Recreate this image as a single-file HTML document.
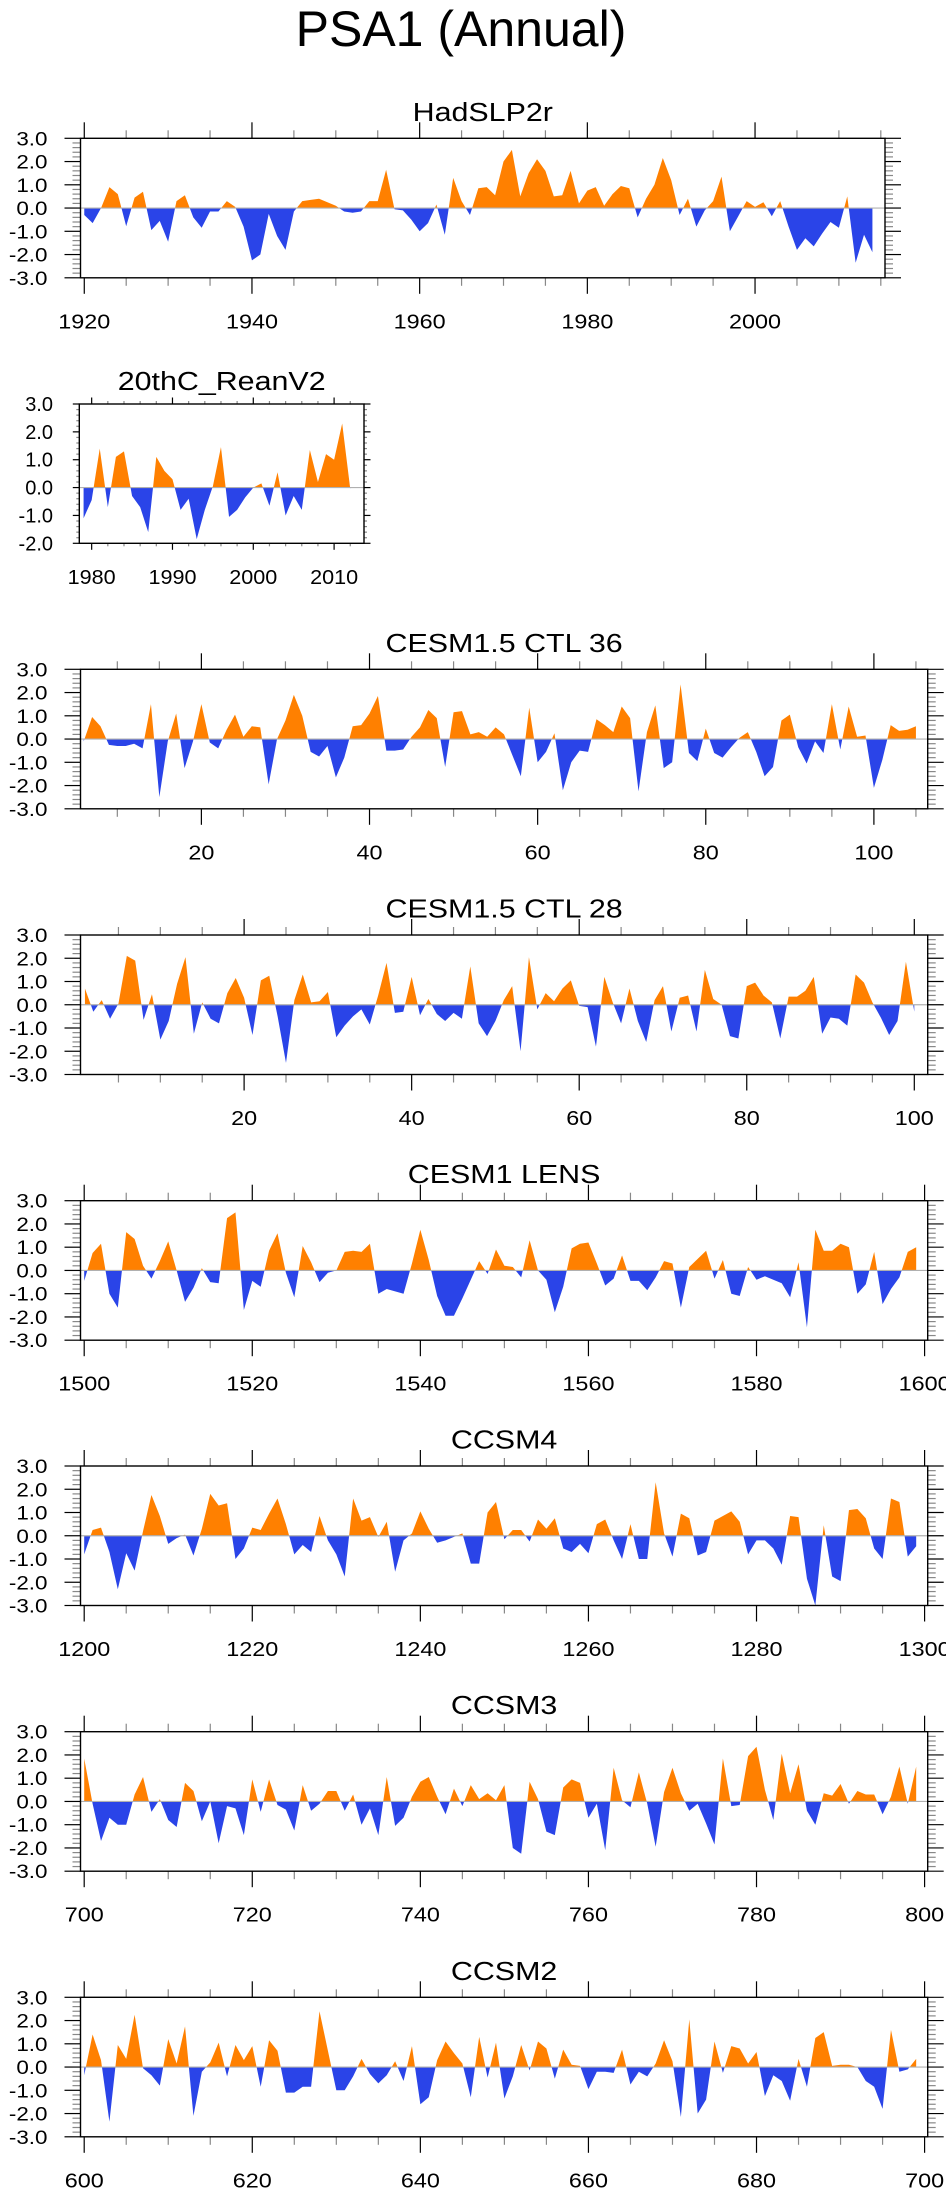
<!DOCTYPE html>
<html><head><meta charset="utf-8">
<style>
html,body{margin:0;padding:0;background:#fff;}
svg{display:block;}
text{font-family:"Liberation Sans",Arial,sans-serif;fill:#000;}
</style></head>
<body>
<svg id="fig" width="946" height="2195" viewBox="0 0 946 2195" xmlns="http://www.w3.org/2000/svg">
<text x="461" y="46" font-size="50" text-anchor="middle">PSA1 (Annual)</text>
</svg>
<script>
// ---------- data ----------
const hadslpStart = 1920;
const hadslpValues = [-0.3,-0.65,0.0,0.9,0.6,-0.78,0.45,0.7,-0.95,-0.55,-1.45,0.3,0.55,-0.4,-0.85,-0.15,-0.15,0.3,0.05,-0.8,-2.25,-2.0,-0.25,-1.2,-1.8,-0.15,0.3,0.35,0.4,0.25,0.1,-0.15,-0.2,-0.15,0.3,0.3,1.65,-0.05,-0.1,-0.5,-1.0,-0.65,0.15,-1.15,1.3,0.3,-0.3,0.85,0.9,0.55,2.0,2.5,0.5,1.5,2.1,1.6,0.5,0.55,1.6,0.2,0.75,0.9,0.1,0.6,0.95,0.85,-0.4,0.4,1.0,2.15,1.2,-0.3,0.4,-0.8,-0.1,0.3,1.35,-1.0,-0.35,0.3,0.05,0.25,-0.35,0.3,-0.8,-1.8,-1.3,-1.65,-1.1,-0.6,-0.85,0.5,-2.35,-1.15,-1.9];
const reanStart = 1979;
const reanValues = [-1.1,-0.45,1.4,-0.7,1.1,1.3,-0.3,-0.7,-1.6,1.1,0.6,0.3,-0.8,-0.4,-1.85,-0.8,0.05,1.45,-1.05,-0.8,-0.35,0.0,0.15,-0.65,0.55,-1.0,-0.3,-0.8,1.35,0.2,1.2,1.0,2.3,-0.05];
const ctl36Start = 6;
const ctl36Values = [-0.1,0.95,0.55,-0.25,-0.3,-0.3,-0.2,-0.4,1.5,-2.5,-0.1,1.1,-1.25,-0.1,1.5,-0.15,-0.4,0.4,1.05,0.1,0.55,0.5,-1.95,0.0,0.8,1.9,1.0,-0.55,-0.75,-0.3,-1.65,-0.8,0.55,0.6,1.1,1.85,-0.5,-0.5,-0.45,0.1,0.5,1.25,0.9,-1.2,1.15,1.2,0.2,0.3,0.1,0.5,0.2,-0.7,-1.6,1.35,-1.0,-0.55,0.25,-2.2,-1.0,-0.5,-0.55,0.85,0.6,0.3,1.4,0.9,-2.25,0.3,1.45,-1.25,-1.0,2.35,-0.6,-0.95,0.45,-0.6,-0.8,-0.35,0.05,0.3,-0.55,-1.6,-1.2,0.8,1.05,-0.35,-1.05,-0.1,-0.6,1.5,-0.45,1.4,0.1,0.15,-2.1,-0.9,0.6,0.35,0.4,0.55];
const ctl28Start = 1;
const ctl28Values = [0.7,-0.3,0.2,-0.6,0.05,2.1,1.9,-0.65,0.45,-1.5,-0.7,0.9,2.05,-1.25,0.1,-0.6,-0.8,0.5,1.15,0.3,-1.3,1.05,1.25,-0.5,-2.5,0.2,1.3,0.1,0.15,0.55,-1.4,-0.9,-0.5,-0.2,-0.85,0.4,1.8,-0.35,-0.3,1.2,-0.45,0.25,-0.4,-0.7,-0.35,-0.6,1.65,-0.8,-1.35,-0.7,0.2,0.8,-2.0,2.05,-0.2,0.5,0.15,0.7,1.05,-0.05,-0.1,-1.8,1.2,0.1,-0.8,0.7,-0.7,-1.6,0.2,0.8,-1.15,0.3,0.4,-1.15,1.5,0.25,0.0,-1.35,-1.45,0.8,0.95,0.4,0.1,-1.45,0.35,0.35,0.6,1.2,-1.25,-0.55,-0.6,-0.9,1.3,0.95,0.1,-0.55,-1.3,-0.7,1.85,-0.3];
const lensStart = 1500;
const lensValues = [-0.45,0.75,1.15,-1.0,-1.6,1.65,1.35,0.2,-0.35,0.4,1.25,0.0,-1.35,-0.75,0.1,-0.5,-0.55,2.25,2.5,-1.7,-0.45,-0.7,0.85,1.6,-0.1,-1.15,1.05,0.35,-0.5,-0.1,0.0,0.8,0.85,0.8,1.15,-1.0,-0.8,-0.9,-1.0,0.3,1.75,0.45,-1.1,-1.95,-1.95,-1.2,-0.4,0.4,-0.15,0.9,0.2,0.15,-0.3,1.3,0.0,-0.4,-1.8,-0.7,0.95,1.15,1.2,0.3,-0.65,-0.35,0.65,-0.45,-0.45,-0.85,-0.3,0.4,0.3,-1.6,0.15,0.5,0.85,-0.35,0.45,-1.0,-1.1,0.15,-0.4,-0.25,-0.4,-0.55,-1.15,0.35,-2.45,1.75,0.85,0.85,1.15,1.0,-1.0,-0.6,0.8,-1.45,-0.8,-0.3,0.8,1.0];
const ccsm4Start = 1200;
const ccsm4Values = [-0.8,0.25,0.35,-0.7,-2.3,-0.75,-1.5,0.2,1.75,0.85,-0.35,-0.1,0.05,-0.85,0.3,1.8,1.3,1.4,-1.0,-0.55,0.35,0.25,0.95,1.6,0.5,-0.8,-0.4,-0.7,0.85,-0.2,-0.8,-1.75,1.6,0.65,0.8,-0.05,0.6,-1.55,-0.2,0.1,1.05,0.3,-0.3,-0.2,-0.05,0.1,-1.2,-1.2,1.0,1.45,-0.15,0.25,0.25,-0.25,0.7,0.3,0.75,-0.55,-0.7,-0.35,-0.75,0.5,0.7,-0.2,-1.0,0.5,-1.0,-1.0,2.3,0.1,-0.9,0.95,0.75,-0.85,-0.7,0.65,0.85,1.05,0.6,-0.8,-0.2,-0.2,-0.55,-1.25,0.85,0.8,-1.85,-3.0,0.45,-1.75,-1.95,1.1,1.15,0.75,-0.55,-1.0,1.6,1.45,-0.9,-0.45];
const ccsm3Start = 700;
const ccsm3Values = [1.85,-0.1,-1.7,-0.7,-1.0,-1.0,0.3,1.05,-0.45,0.1,-0.8,-1.1,0.8,0.45,-0.85,0.0,-1.8,-0.2,-0.3,-1.45,0.95,-0.45,0.95,-0.15,-0.35,-1.25,0.7,-0.4,-0.1,0.45,0.45,-0.4,0.3,-1.0,-0.3,-1.45,1.05,-1.05,-0.7,0.2,0.85,1.05,0.2,-0.55,0.55,-0.2,0.7,0.1,0.35,0.05,0.7,-2.0,-2.25,0.85,0.1,-1.3,-1.45,0.6,0.95,0.8,-0.7,-0.1,-2.1,1.45,0.05,-0.25,1.25,-0.1,-1.95,0.4,1.45,0.35,-0.4,-0.1,-0.95,-1.85,1.85,-0.2,-0.15,1.95,2.35,0.5,-0.8,2.05,0.35,1.6,-0.4,-1.0,0.35,0.25,0.75,-0.1,0.45,0.3,0.3,-0.55,0.2,1.5,-0.1,1.5];
const ccsm2Start = 600;
const ccsm2Values = [-0.35,1.4,0.3,-2.35,0.95,0.35,2.25,-0.05,-0.35,-0.8,1.2,0.15,1.75,-2.1,-0.2,0.2,1.05,-0.4,0.95,0.3,0.9,-0.85,1.15,0.7,-1.1,-1.1,-0.85,-0.85,2.4,0.7,-1.0,-1.0,-0.4,0.35,-0.3,-0.7,-0.35,0.25,-0.6,0.9,-1.6,-1.3,0.3,1.1,0.6,0.15,-1.3,1.3,-0.45,1.05,-1.35,-0.4,0.95,-0.15,1.1,0.8,-0.5,0.75,0.1,0.05,-0.95,-0.2,-0.2,-0.25,0.75,-0.75,-0.2,-0.4,0.15,1.15,0.25,-2.15,2.05,-2.0,-1.4,1.1,-0.25,0.9,0.8,0.15,0.65,-1.25,-0.35,-0.6,-1.45,0.35,-0.85,1.25,1.5,0.05,0.1,0.1,0.0,-0.6,-0.85,-1.8,1.6,-0.2,-0.1,0.35];

const hadslpTicks = [1920,1940,1960,1980,2000];
const reanTicks = [1980,1990,2000,2010];
const ctlTicks = [20,40,60,80,100];
const lensTicks = [1500,1520,1540,1560,1580,1600];
const ccsm4Ticks = [1200,1220,1240,1260,1280,1300];
const ccsm3Ticks = [700,720,740,760,780,800];
const ccsm2Ticks = [600,620,640,660,680,700];
const yTicksFull = [3,2,1,0,-1,-2,-3];
const yTicksRean = [3,2,1,0,-1,-2];

// ---------- drawing ----------
const NS = 'http://www.w3.org/2000/svg';
const svg = document.getElementById('fig');
function mk(tag, attrs, parent) {
  const e = document.createElementNS(NS, tag);
  for (const k in attrs) e.setAttribute(k, attrs[k]);
  (parent || svg).appendChild(e);
  return e;
}
function label(g, x, y, str, size, sx, anchor) {
  const t = mk('text', {transform: 'translate(' + x + ',' + y + ') scale(' + sx + ',1)', 'font-size': size, 'text-anchor': anchor}, g);
  t.textContent = str;
  return t;
}

const BLUE = '#2a44e8', ORANGE = '#ff8000';

function drawChart(cfg, idx) {
  const g = mk('g', {});
  
  
  const L = cfg.l, R = cfg.r, T = cfg.t, B = cfg.t + cfg.h;
  const xs = v => L + (v - cfg.xmin) / (cfg.xmax - cfg.xmin) * (R - L);
  const ys = v => T + (cfg.ymax - v) / (cfg.ymax - cfg.ymin) * (B - T);
  const y0 = ys(0);

  // area path
  let d = 'M' + xs(cfg.start) + ',' + y0;
  cfg.values.forEach((v, i) => { d += ' L' + xs(cfg.start + i).toFixed(2) + ',' + ys(v).toFixed(2); });
  d += ' L' + xs(cfg.start + cfg.values.length - 1) + ',' + y0 + ' Z';

  const cu = 'clipU' + idx, cd = 'clipD' + idx;
  const defs = mk('defs', {}, g);
  const c1 = mk('clipPath', {id: cu}, defs);
  mk('rect', {x: L, y: T, width: R - L, height: y0 - T}, c1);
  const c2 = mk('clipPath', {id: cd}, defs);
  mk('rect', {x: L, y: y0, width: R - L, height: B - y0}, c2);

  const pos = mk('path', {d: d, fill: ORANGE, 'clip-path': 'url(#' + cu + ')'}, g);
  
  
  const neg = mk('path', {d: d, fill: BLUE, 'clip-path': 'url(#' + cd + ')'}, g);
  
  

  const zl = mk('line', {x1: L, x2: R, y1: y0, y2: y0, stroke: '#b0b0b0', 'stroke-width': 1.2}, g);
  
  

  // ticks
  const maj = cfg.small ? 6.5 : 16, mnr = cfg.small ? 3 : 8;
  const tg = mk('g', {stroke: '#000', 'stroke-width': 1.2}, g);
  
  
  const first = Math.ceil(cfg.xmin / cfg.minorStep) * cfg.minorStep;
  for (let v = first; v <= cfg.xmax + 1e-9; v += cfg.minorStep) {
    const isMaj = Math.abs(v / cfg.majorStep - Math.round(v / cfg.majorStep)) < 1e-6;
    const len = isMaj ? maj : mnr;
    const x = xs(v);
    const col = isMaj ? '#000' : '#888';
    mk('line', {x1: x, x2: x, y1: T, y2: T - len, stroke: col}, tg);
    mk('line', {x1: x, x2: x, y1: B, y2: B + len, stroke: col}, tg);
  }
  for (let k = Math.round(cfg.ymin * 5); k <= Math.round(cfg.ymax * 5); k++) {
    const isMaj = k % 5 === 0;
    const len = isMaj ? maj : mnr;
    const y = ys(k / 5);
    const col = isMaj ? '#000' : '#888';
    mk('line', {x1: L, x2: L - len, y1: y, y2: y, stroke: col}, tg);
    mk('line', {x1: R, x2: R + len, y1: y, y2: y, stroke: col}, tg);
  }

  const fr = mk('rect', {x: L, y: T, width: R - L, height: B - T, fill: 'none', stroke: '#000', 'stroke-width': 1.4}, g);
  
  

  // labels
  const tt = label(g, (L + R) / 2, T - (cfg.small ? 14 : 17.5), cfg.title, 26, 1.17, 'middle');
  
  

  cfg.xticks.forEach(v => {
    const t = label(g, xs(v), B + (cfg.small ? 40.7 : 50.5), String(v), 20, cfg.small ? 1.08 : 1.17, 'middle');
    
    
  });
  cfg.yticks.forEach(v => {
    const t = label(g, cfg.small ? 53 : 47.5, ys(v) + 7, v.toFixed(1), cfg.small ? 20 : 19, cfg.small ? 1.0 : 1.18, 'end');
    
    
  });
}

const H = 139.5;
const charts = [
  {name:'hadslp2r-chart', title:'HadSLP2r', values:hadslpValues, start:hadslpStart, xticks:hadslpTicks, yticks:yTicksFull,
   l:80.5, r:885, t:138.3, h:H, xmin:1919.55, xmax:2015.5, ymin:-3, ymax:3, majorStep:20, minorStep:5},
  {name:'reanv2-chart', title:'20thC_ReanV2', values:reanValues, start:reanStart, xticks:reanTicks, yticks:yTicksRean, small:true,
   l:79.3, r:364, t:404, h:139.3, xmin:1978.47, xmax:2013.7, ymin:-2, ymax:3, majorStep:10, minorStep:2},
  {name:'cesm15-ctl36-chart', title:'CESM1.5 CTL 36', values:ctl36Values, start:ctl36Start, xticks:ctlTicks, yticks:yTicksFull,
   l:80.5, r:927.7, t:669.3, h:H, xmin:5.62, xmax:106.4, ymin:-3, ymax:3, majorStep:20, minorStep:5},
  {name:'cesm15-ctl28-chart', title:'CESM1.5 CTL 28', values:ctl28Values, start:ctl28Start, xticks:ctlTicks, yticks:yTicksFull,
   l:80.5, r:927.7, t:935, h:H, xmin:0.47, xmax:101.6, ymin:-3, ymax:3, majorStep:20, minorStep:5},
  {name:'cesm1-lens-chart', title:'CESM1 LENS', values:lensValues, start:lensStart, xticks:lensTicks, yticks:yTicksFull,
   l:80.5, r:927.7, t:1200.7, h:H, xmin:1499.56, xmax:1600.37, ymin:-3, ymax:3, majorStep:20, minorStep:5},
  {name:'ccsm4-chart', title:'CCSM4', values:ccsm4Values, start:ccsm4Start, xticks:ccsm4Ticks, yticks:yTicksFull,
   l:80.5, r:927.7, t:1466, h:H, xmin:1199.56, xmax:1300.37, ymin:-3, ymax:3, majorStep:20, minorStep:5},
  {name:'ccsm3-chart', title:'CCSM3', values:ccsm3Values, start:ccsm3Start, xticks:ccsm3Ticks, yticks:yTicksFull,
   l:80.5, r:927.7, t:1731.7, h:H, xmin:699.56, xmax:800.37, ymin:-3, ymax:3, majorStep:20, minorStep:5},
  {name:'ccsm2-chart', title:'CCSM2', values:ccsm2Values, start:ccsm2Start, xticks:ccsm2Ticks, yticks:yTicksFull,
   l:80.5, r:927.7, t:1997.3, h:H, xmin:599.56, xmax:700.37, ymin:-3, ymax:3, majorStep:20, minorStep:5}
];
charts.forEach((c, i) => drawChart(c, i));
</script>
</body></html>
